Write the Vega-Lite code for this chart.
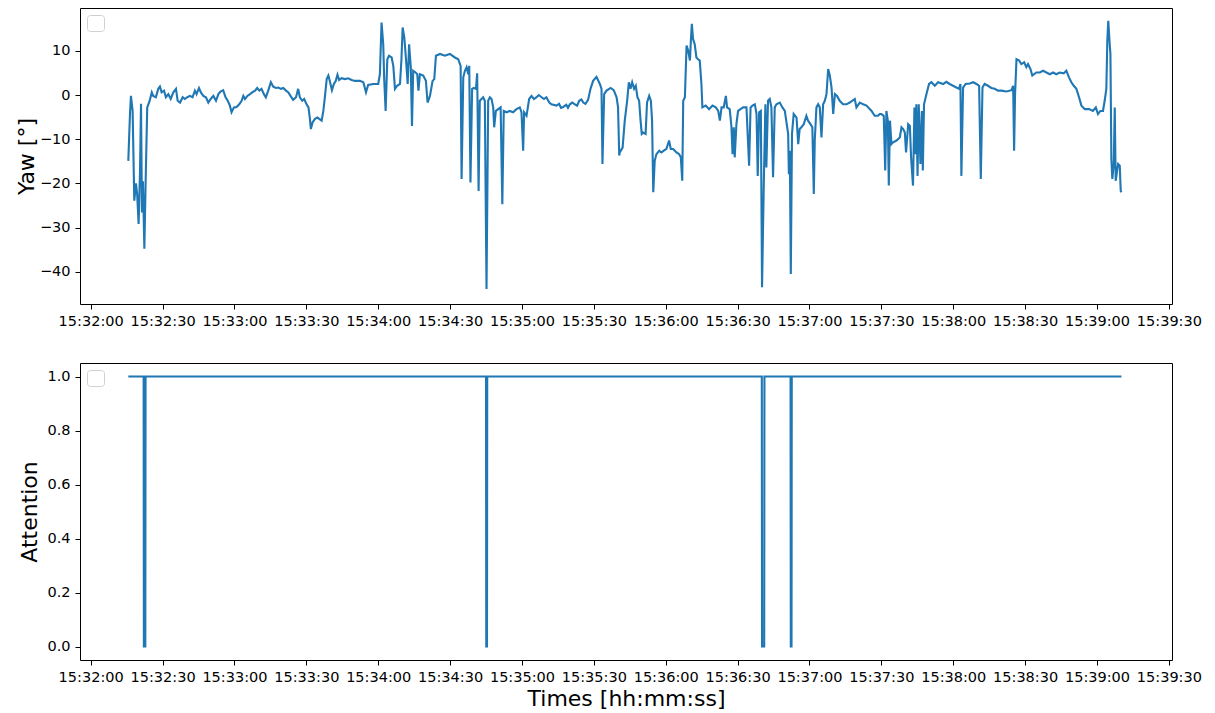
{
  "$schema": "https://vega.github.io/schema/vega-lite/v6.json",
  "background": "white",
  "padding": {"left": 14, "top": 7, "right": 5, "bottom": 5},
  "spacing": 34,
  "config": {
    "font": "DejaVu Sans",
    "view": {"stroke": "#000000", "strokeWidth": 1},
    "axis": {
      "grid": false,
      "domain": false,
      "tickColor": "#000000",
      "tickSize": 5,
      "tickWidth": 1,
      "labelColor": "#000000",
      "labelFont": "DejaVu Sans",
      "labelFontSize": 14.5,
      "labelPadding": 5,
      "titleFont": "DejaVu Sans",
      "titleFontSize": 22,
      "titleFontWeight": "normal",
      "titleColor": "#000000"
    }
  },
  "resolve": {"scale": {"color": "independent"}, "legend": {"color": "independent"}},
  "vconcat": [
    {
      "width": 1092,
      "height": 296,
      "data": {
        "values": [
          {"t": "2021-01-01T15:32:15.700", "yaw": -14.9}, {"t": "2021-01-01T15:32:16.400", "yaw": -4.3}, {"t": "2021-01-01T15:32:16.800", "yaw": -0.2},
          {"t": "2021-01-01T15:32:17.500", "yaw": -3.6}, {"t": "2021-01-01T15:32:18.200", "yaw": -23.9}, {"t": "2021-01-01T15:32:18.900", "yaw": -20.0},
          {"t": "2021-01-01T15:32:19.400", "yaw": -22.5}, {"t": "2021-01-01T15:32:20.000", "yaw": -29.2}, {"t": "2021-01-01T15:32:20.600", "yaw": -17.0},
          {"t": "2021-01-01T15:32:21.000", "yaw": -2.0}, {"t": "2021-01-01T15:32:21.400", "yaw": -26.6}, {"t": "2021-01-01T15:32:21.800", "yaw": -19.5},
          {"t": "2021-01-01T15:32:22.400", "yaw": -34.8}, {"t": "2021-01-01T15:32:22.900", "yaw": -20.5}, {"t": "2021-01-01T15:32:23.600", "yaw": -2.8},
          {"t": "2021-01-01T15:32:24.500", "yaw": -1.5}, {"t": "2021-01-01T15:32:25.500", "yaw": 0.6}, {"t": "2021-01-01T15:32:26.100", "yaw": -0.2},
          {"t": "2021-01-01T15:32:27.200", "yaw": -0.5}, {"t": "2021-01-01T15:32:28.200", "yaw": 1.4}, {"t": "2021-01-01T15:32:28.900", "yaw": 1.9},
          {"t": "2021-01-01T15:32:29.600", "yaw": 0.6}, {"t": "2021-01-01T15:32:30.600", "yaw": 1.0}, {"t": "2021-01-01T15:32:31.400", "yaw": -0.5},
          {"t": "2021-01-01T15:32:32.400", "yaw": 0.2}, {"t": "2021-01-01T15:32:33.400", "yaw": -0.9}, {"t": "2021-01-01T15:32:34.500", "yaw": 0.6},
          {"t": "2021-01-01T15:32:35.600", "yaw": 1.4}, {"t": "2021-01-01T15:32:36.300", "yaw": -1.3}, {"t": "2021-01-01T15:32:37.300", "yaw": -1.7},
          {"t": "2021-01-01T15:32:38.400", "yaw": -0.5}, {"t": "2021-01-01T15:32:39.300", "yaw": -0.9}, {"t": "2021-01-01T15:32:40.300", "yaw": -0.5},
          {"t": "2021-01-01T15:32:41.400", "yaw": -0.2}, {"t": "2021-01-01T15:32:42.500", "yaw": -0.5}, {"t": "2021-01-01T15:32:43.500", "yaw": 1.0},
          {"t": "2021-01-01T15:32:44.200", "yaw": 0.2}, {"t": "2021-01-01T15:32:45.200", "yaw": 1.6}, {"t": "2021-01-01T15:32:46.000", "yaw": 0.6},
          {"t": "2021-01-01T15:32:47.000", "yaw": -0.2}, {"t": "2021-01-01T15:32:48.100", "yaw": -0.5}, {"t": "2021-01-01T15:32:49.100", "yaw": -1.7},
          {"t": "2021-01-01T15:32:50.100", "yaw": -0.9}, {"t": "2021-01-01T15:32:51.200", "yaw": -0.2}, {"t": "2021-01-01T15:32:52.300", "yaw": -1.3},
          {"t": "2021-01-01T15:32:53.300", "yaw": 0.2}, {"t": "2021-01-01T15:32:54.200", "yaw": 0.8}, {"t": "2021-01-01T15:32:55.300", "yaw": 1.1},
          {"t": "2021-01-01T15:32:56.300", "yaw": -0.5}, {"t": "2021-01-01T15:32:57.200", "yaw": -1.3}, {"t": "2021-01-01T15:32:58.100", "yaw": -2.4},
          {"t": "2021-01-01T15:32:58.800", "yaw": -3.9}, {"t": "2021-01-01T15:32:59.800", "yaw": -2.8}, {"t": "2021-01-01T15:33:00.900", "yaw": -2.7},
          {"t": "2021-01-01T15:33:02.000", "yaw": -2.1}, {"t": "2021-01-01T15:33:03.000", "yaw": -1.3}, {"t": "2021-01-01T15:33:03.700", "yaw": -0.2},
          {"t": "2021-01-01T15:33:04.400", "yaw": -0.9}, {"t": "2021-01-01T15:33:05.400", "yaw": -0.2}, {"t": "2021-01-01T15:33:06.500", "yaw": 0.2},
          {"t": "2021-01-01T15:33:07.400", "yaw": 0.6}, {"t": "2021-01-01T15:33:08.600", "yaw": 1.0}, {"t": "2021-01-01T15:33:09.500", "yaw": 1.6},
          {"t": "2021-01-01T15:33:10.400", "yaw": 1.0}, {"t": "2021-01-01T15:33:11.300", "yaw": 1.4}, {"t": "2021-01-01T15:33:12.300", "yaw": 0.2},
          {"t": "2021-01-01T15:33:13.100", "yaw": -0.5}, {"t": "2021-01-01T15:33:14.100", "yaw": 1.0}, {"t": "2021-01-01T15:33:15.200", "yaw": 2.9},
          {"t": "2021-01-01T15:33:16.200", "yaw": 1.9}, {"t": "2021-01-01T15:33:17.300", "yaw": 1.6}, {"t": "2021-01-01T15:33:18.300", "yaw": 1.7},
          {"t": "2021-01-01T15:33:19.400", "yaw": 1.4}, {"t": "2021-01-01T15:33:20.400", "yaw": 1.6}, {"t": "2021-01-01T15:33:21.500", "yaw": 1.0},
          {"t": "2021-01-01T15:33:22.500", "yaw": 0.6}, {"t": "2021-01-01T15:33:23.400", "yaw": -0.2}, {"t": "2021-01-01T15:33:24.500", "yaw": -1.1},
          {"t": "2021-01-01T15:33:25.700", "yaw": -0.5}, {"t": "2021-01-01T15:33:26.600", "yaw": 1.4}, {"t": "2021-01-01T15:33:27.300", "yaw": -0.5},
          {"t": "2021-01-01T15:33:28.300", "yaw": -1.3}, {"t": "2021-01-01T15:33:29.100", "yaw": -0.9}, {"t": "2021-01-01T15:33:30.100", "yaw": -2.1},
          {"t": "2021-01-01T15:33:30.900", "yaw": -2.8}, {"t": "2021-01-01T15:33:31.500", "yaw": -5.4}, {"t": "2021-01-01T15:33:31.900", "yaw": -7.7},
          {"t": "2021-01-01T15:33:32.600", "yaw": -6.2}, {"t": "2021-01-01T15:33:33.600", "yaw": -5.4}, {"t": "2021-01-01T15:33:34.600", "yaw": -5.1},
          {"t": "2021-01-01T15:33:35.400", "yaw": -5.4}, {"t": "2021-01-01T15:33:36.400", "yaw": -5.8}, {"t": "2021-01-01T15:33:37.100", "yaw": -3.6},
          {"t": "2021-01-01T15:33:37.800", "yaw": -0.2}, {"t": "2021-01-01T15:33:38.500", "yaw": 3.6}, {"t": "2021-01-01T15:33:39.200", "yaw": 4.4},
          {"t": "2021-01-01T15:33:39.800", "yaw": 3.2}, {"t": "2021-01-01T15:33:40.700", "yaw": 1.1}, {"t": "2021-01-01T15:33:41.500", "yaw": 2.5},
          {"t": "2021-01-01T15:33:42.300", "yaw": 3.2}, {"t": "2021-01-01T15:33:43.000", "yaw": 4.6}, {"t": "2021-01-01T15:33:43.700", "yaw": 3.4},
          {"t": "2021-01-01T15:33:44.700", "yaw": 3.8}, {"t": "2021-01-01T15:33:46.100", "yaw": 3.6}, {"t": "2021-01-01T15:33:47.500", "yaw": 3.8},
          {"t": "2021-01-01T15:33:48.900", "yaw": 3.4}, {"t": "2021-01-01T15:33:50.300", "yaw": 3.2}, {"t": "2021-01-01T15:33:52.400", "yaw": 3.2},
          {"t": "2021-01-01T15:33:53.800", "yaw": 2.9}, {"t": "2021-01-01T15:33:54.900", "yaw": 0.6}, {"t": "2021-01-01T15:33:55.800", "yaw": 2.3},
          {"t": "2021-01-01T15:33:57.900", "yaw": 2.5}, {"t": "2021-01-01T15:34:00.000", "yaw": 2.5}, {"t": "2021-01-01T15:34:00.700", "yaw": 4.7},
          {"t": "2021-01-01T15:34:01.400", "yaw": 16.4}, {"t": "2021-01-01T15:34:02.100", "yaw": 11.5}, {"t": "2021-01-01T15:34:02.500", "yaw": 3.6},
          {"t": "2021-01-01T15:34:03.100", "yaw": -3.6}, {"t": "2021-01-01T15:34:03.800", "yaw": 8.1}, {"t": "2021-01-01T15:34:04.500", "yaw": 8.9},
          {"t": "2021-01-01T15:34:05.600", "yaw": 8.5}, {"t": "2021-01-01T15:34:06.300", "yaw": 6.6}, {"t": "2021-01-01T15:34:07.000", "yaw": 1.4},
          {"t": "2021-01-01T15:34:07.900", "yaw": 2.1}, {"t": "2021-01-01T15:34:09.100", "yaw": 2.5}, {"t": "2021-01-01T15:34:09.700", "yaw": 8.1},
          {"t": "2021-01-01T15:34:10.200", "yaw": 15.3}, {"t": "2021-01-01T15:34:10.900", "yaw": 13.0}, {"t": "2021-01-01T15:34:11.600", "yaw": 8.1},
          {"t": "2021-01-01T15:34:12.300", "yaw": 2.5}, {"t": "2021-01-01T15:34:12.900", "yaw": 11.5}, {"t": "2021-01-01T15:34:13.600", "yaw": 6.3},
          {"t": "2021-01-01T15:34:14.100", "yaw": -7.0}, {"t": "2021-01-01T15:34:14.600", "yaw": 5.5}, {"t": "2021-01-01T15:34:15.600", "yaw": 5.1},
          {"t": "2021-01-01T15:34:16.300", "yaw": 4.7}, {"t": "2021-01-01T15:34:16.800", "yaw": 1.0}, {"t": "2021-01-01T15:34:17.400", "yaw": 4.7},
          {"t": "2021-01-01T15:34:18.800", "yaw": 4.4}, {"t": "2021-01-01T15:34:19.900", "yaw": 3.2}, {"t": "2021-01-01T15:34:20.600", "yaw": -1.7},
          {"t": "2021-01-01T15:34:21.600", "yaw": -0.2}, {"t": "2021-01-01T15:34:22.700", "yaw": 3.2}, {"t": "2021-01-01T15:34:23.400", "yaw": 3.6},
          {"t": "2021-01-01T15:34:24.100", "yaw": 8.9}, {"t": "2021-01-01T15:34:25.800", "yaw": 9.3}, {"t": "2021-01-01T15:34:27.800", "yaw": 8.9},
          {"t": "2021-01-01T15:34:29.900", "yaw": 9.3}, {"t": "2021-01-01T15:34:32.000", "yaw": 8.5}, {"t": "2021-01-01T15:34:33.400", "yaw": 8.1},
          {"t": "2021-01-01T15:34:34.400", "yaw": 6.6}, {"t": "2021-01-01T15:34:34.800", "yaw": -19.0}, {"t": "2021-01-01T15:34:35.500", "yaw": 4.0},
          {"t": "2021-01-01T15:34:36.200", "yaw": 5.5}, {"t": "2021-01-01T15:34:36.900", "yaw": 6.3}, {"t": "2021-01-01T15:34:37.600", "yaw": 4.7},
          {"t": "2021-01-01T15:34:38.000", "yaw": 6.6}, {"t": "2021-01-01T15:34:38.500", "yaw": -19.8}, {"t": "2021-01-01T15:34:39.200", "yaw": 1.4},
          {"t": "2021-01-01T15:34:39.900", "yaw": 1.6}, {"t": "2021-01-01T15:34:40.800", "yaw": 1.4}, {"t": "2021-01-01T15:34:41.300", "yaw": 4.9},
          {"t": "2021-01-01T15:34:41.900", "yaw": -21.7}, {"t": "2021-01-01T15:34:42.400", "yaw": -1.3}, {"t": "2021-01-01T15:34:43.100", "yaw": -0.9},
          {"t": "2021-01-01T15:34:43.800", "yaw": -0.5}, {"t": "2021-01-01T15:34:44.500", "yaw": -1.3}, {"t": "2021-01-01T15:34:45.200", "yaw": -43.9},
          {"t": "2021-01-01T15:34:45.900", "yaw": -1.3}, {"t": "2021-01-01T15:34:46.600", "yaw": -0.5}, {"t": "2021-01-01T15:34:47.300", "yaw": -0.9},
          {"t": "2021-01-01T15:34:48.000", "yaw": -2.8}, {"t": "2021-01-01T15:34:48.400", "yaw": -7.3}, {"t": "2021-01-01T15:34:49.100", "yaw": -3.6},
          {"t": "2021-01-01T15:34:50.100", "yaw": -3.2}, {"t": "2021-01-01T15:34:51.100", "yaw": -2.8}, {"t": "2021-01-01T15:34:51.800", "yaw": -24.7},
          {"t": "2021-01-01T15:34:52.400", "yaw": -3.6}, {"t": "2021-01-01T15:34:53.600", "yaw": -3.9}, {"t": "2021-01-01T15:34:54.900", "yaw": -3.6},
          {"t": "2021-01-01T15:34:56.300", "yaw": -3.9}, {"t": "2021-01-01T15:34:57.700", "yaw": -3.2}, {"t": "2021-01-01T15:34:59.100", "yaw": -2.8},
          {"t": "2021-01-01T15:34:59.800", "yaw": -3.9}, {"t": "2021-01-01T15:35:00.500", "yaw": -12.6}, {"t": "2021-01-01T15:35:00.900", "yaw": -3.9},
          {"t": "2021-01-01T15:35:01.900", "yaw": -4.7}, {"t": "2021-01-01T15:35:03.000", "yaw": -0.9}, {"t": "2021-01-01T15:35:04.000", "yaw": -0.2},
          {"t": "2021-01-01T15:35:05.000", "yaw": -0.9}, {"t": "2021-01-01T15:35:06.100", "yaw": -0.5}, {"t": "2021-01-01T15:35:07.000", "yaw": 0.0},
          {"t": "2021-01-01T15:35:08.200", "yaw": -0.5}, {"t": "2021-01-01T15:35:09.200", "yaw": -0.9}, {"t": "2021-01-01T15:35:10.200", "yaw": -0.5},
          {"t": "2021-01-01T15:35:11.400", "yaw": -1.7}, {"t": "2021-01-01T15:35:12.300", "yaw": -2.1}, {"t": "2021-01-01T15:35:14.400", "yaw": -2.4},
          {"t": "2021-01-01T15:35:15.500", "yaw": -2.0}, {"t": "2021-01-01T15:35:16.300", "yaw": -2.9}, {"t": "2021-01-01T15:35:17.200", "yaw": -2.7},
          {"t": "2021-01-01T15:35:18.500", "yaw": -2.2}, {"t": "2021-01-01T15:35:19.200", "yaw": -2.9}, {"t": "2021-01-01T15:35:20.000", "yaw": -2.1},
          {"t": "2021-01-01T15:35:21.000", "yaw": -1.7}, {"t": "2021-01-01T15:35:22.100", "yaw": -2.1}, {"t": "2021-01-01T15:35:23.000", "yaw": -2.4},
          {"t": "2021-01-01T15:35:23.900", "yaw": -1.3}, {"t": "2021-01-01T15:35:24.800", "yaw": -1.0}, {"t": "2021-01-01T15:35:25.600", "yaw": -1.7},
          {"t": "2021-01-01T15:35:26.500", "yaw": -2.0}, {"t": "2021-01-01T15:35:27.600", "yaw": -1.1}, {"t": "2021-01-01T15:35:28.600", "yaw": 1.4},
          {"t": "2021-01-01T15:35:29.700", "yaw": 3.2}, {"t": "2021-01-01T15:35:31.100", "yaw": 4.1}, {"t": "2021-01-01T15:35:32.500", "yaw": 2.5},
          {"t": "2021-01-01T15:35:33.200", "yaw": 1.4}, {"t": "2021-01-01T15:35:33.600", "yaw": -15.6}, {"t": "2021-01-01T15:35:34.300", "yaw": 0.2},
          {"t": "2021-01-01T15:35:35.300", "yaw": 1.0}, {"t": "2021-01-01T15:35:37.000", "yaw": 1.6}, {"t": "2021-01-01T15:35:38.300", "yaw": 1.1},
          {"t": "2021-01-01T15:35:39.500", "yaw": -0.5}, {"t": "2021-01-01T15:35:40.100", "yaw": -2.8}, {"t": "2021-01-01T15:35:40.600", "yaw": -13.7},
          {"t": "2021-01-01T15:35:40.800", "yaw": -13.0}, {"t": "2021-01-01T15:35:42.000", "yaw": -11.9}, {"t": "2021-01-01T15:35:42.900", "yaw": -5.8},
          {"t": "2021-01-01T15:35:43.900", "yaw": -1.3}, {"t": "2021-01-01T15:35:44.600", "yaw": 2.9}, {"t": "2021-01-01T15:35:45.300", "yaw": 1.4},
          {"t": "2021-01-01T15:35:46.000", "yaw": 2.9}, {"t": "2021-01-01T15:35:46.800", "yaw": 1.4}, {"t": "2021-01-01T15:35:47.500", "yaw": 2.1},
          {"t": "2021-01-01T15:35:48.200", "yaw": -0.5}, {"t": "2021-01-01T15:35:48.900", "yaw": -1.3}, {"t": "2021-01-01T15:35:49.500", "yaw": -5.8},
          {"t": "2021-01-01T15:35:50.000", "yaw": -8.8}, {"t": "2021-01-01T15:35:50.600", "yaw": -8.5}, {"t": "2021-01-01T15:35:51.600", "yaw": -8.8},
          {"t": "2021-01-01T15:35:52.200", "yaw": -1.7}, {"t": "2021-01-01T15:35:53.100", "yaw": -0.2}, {"t": "2021-01-01T15:35:53.800", "yaw": -1.3},
          {"t": "2021-01-01T15:35:54.300", "yaw": -5.8}, {"t": "2021-01-01T15:35:54.800", "yaw": -22.0}, {"t": "2021-01-01T15:35:55.400", "yaw": -14.9},
          {"t": "2021-01-01T15:35:56.100", "yaw": -13.4}, {"t": "2021-01-01T15:35:57.300", "yaw": -12.6}, {"t": "2021-01-01T15:35:58.200", "yaw": -13.0},
          {"t": "2021-01-01T15:35:59.200", "yaw": -12.6}, {"t": "2021-01-01T15:36:00.300", "yaw": -12.2}, {"t": "2021-01-01T15:36:01.400", "yaw": -10.3},
          {"t": "2021-01-01T15:36:02.100", "yaw": -12.2}, {"t": "2021-01-01T15:36:03.100", "yaw": -12.2}, {"t": "2021-01-01T15:36:04.500", "yaw": -13.0},
          {"t": "2021-01-01T15:36:05.600", "yaw": -13.4}, {"t": "2021-01-01T15:36:06.300", "yaw": -14.1}, {"t": "2021-01-01T15:36:06.900", "yaw": -19.4},
          {"t": "2021-01-01T15:36:07.300", "yaw": -1.3}, {"t": "2021-01-01T15:36:08.000", "yaw": -0.5}, {"t": "2021-01-01T15:36:08.700", "yaw": 11.2},
          {"t": "2021-01-01T15:36:09.400", "yaw": 10.0}, {"t": "2021-01-01T15:36:10.100", "yaw": 7.8}, {"t": "2021-01-01T15:36:10.500", "yaw": 12.3},
          {"t": "2021-01-01T15:36:10.900", "yaw": 16.1}, {"t": "2021-01-01T15:36:11.400", "yaw": 12.7}, {"t": "2021-01-01T15:36:12.100", "yaw": 11.5},
          {"t": "2021-01-01T15:36:12.800", "yaw": 8.5}, {"t": "2021-01-01T15:36:13.500", "yaw": 8.1}, {"t": "2021-01-01T15:36:14.200", "yaw": 7.8},
          {"t": "2021-01-01T15:36:14.900", "yaw": 2.5}, {"t": "2021-01-01T15:36:15.300", "yaw": -2.8}, {"t": "2021-01-01T15:36:16.700", "yaw": -2.4},
          {"t": "2021-01-01T15:36:18.100", "yaw": -3.2}, {"t": "2021-01-01T15:36:19.500", "yaw": -2.4}, {"t": "2021-01-01T15:36:20.900", "yaw": -2.8},
          {"t": "2021-01-01T15:36:21.900", "yaw": -3.6}, {"t": "2021-01-01T15:36:22.600", "yaw": -5.8}, {"t": "2021-01-01T15:36:23.300", "yaw": -2.8},
          {"t": "2021-01-01T15:36:24.200", "yaw": -2.8}, {"t": "2021-01-01T15:36:25.100", "yaw": -0.2}, {"t": "2021-01-01T15:36:25.600", "yaw": -2.8},
          {"t": "2021-01-01T15:36:26.700", "yaw": -3.2}, {"t": "2021-01-01T15:36:27.400", "yaw": -7.0}, {"t": "2021-01-01T15:36:27.900", "yaw": -13.4},
          {"t": "2021-01-01T15:36:28.400", "yaw": -7.3}, {"t": "2021-01-01T15:36:28.800", "yaw": -14.1}, {"t": "2021-01-01T15:36:29.500", "yaw": -6.6},
          {"t": "2021-01-01T15:36:30.200", "yaw": -3.6}, {"t": "2021-01-01T15:36:31.200", "yaw": -3.2}, {"t": "2021-01-01T15:36:32.300", "yaw": -2.8},
          {"t": "2021-01-01T15:36:33.700", "yaw": -2.8}, {"t": "2021-01-01T15:36:34.800", "yaw": -16.0}, {"t": "2021-01-01T15:36:35.400", "yaw": -2.8},
          {"t": "2021-01-01T15:36:36.200", "yaw": -2.4}, {"t": "2021-01-01T15:36:37.200", "yaw": -2.1}, {"t": "2021-01-01T15:36:37.900", "yaw": -4.3},
          {"t": "2021-01-01T15:36:38.400", "yaw": -18.3}, {"t": "2021-01-01T15:36:39.000", "yaw": -3.9}, {"t": "2021-01-01T15:36:39.700", "yaw": -3.6},
          {"t": "2021-01-01T15:36:40.200", "yaw": -43.5}, {"t": "2021-01-01T15:36:40.900", "yaw": -20.9}, {"t": "2021-01-01T15:36:41.600", "yaw": -2.1},
          {"t": "2021-01-01T15:36:42.000", "yaw": -16.4}, {"t": "2021-01-01T15:36:42.700", "yaw": -1.3}, {"t": "2021-01-01T15:36:43.400", "yaw": -0.9},
          {"t": "2021-01-01T15:36:44.100", "yaw": -2.8}, {"t": "2021-01-01T15:36:44.800", "yaw": -18.6}, {"t": "2021-01-01T15:36:45.500", "yaw": -2.8},
          {"t": "2021-01-01T15:36:46.200", "yaw": -2.1}, {"t": "2021-01-01T15:36:47.600", "yaw": -1.7}, {"t": "2021-01-01T15:36:48.700", "yaw": -2.8},
          {"t": "2021-01-01T15:36:49.700", "yaw": -3.6}, {"t": "2021-01-01T15:36:51.100", "yaw": -8.8}, {"t": "2021-01-01T15:36:51.400", "yaw": -17.9},
          {"t": "2021-01-01T15:36:51.800", "yaw": -12.6}, {"t": "2021-01-01T15:36:52.200", "yaw": -40.5}, {"t": "2021-01-01T15:36:52.700", "yaw": -8.8},
          {"t": "2021-01-01T15:36:53.400", "yaw": -4.3}, {"t": "2021-01-01T15:36:54.600", "yaw": -5.1}, {"t": "2021-01-01T15:36:55.300", "yaw": -11.1},
          {"t": "2021-01-01T15:36:55.900", "yaw": -7.7}, {"t": "2021-01-01T15:36:56.600", "yaw": -7.3}, {"t": "2021-01-01T15:36:57.600", "yaw": -6.6},
          {"t": "2021-01-01T15:36:58.700", "yaw": -4.7}, {"t": "2021-01-01T15:36:59.400", "yaw": -5.8}, {"t": "2021-01-01T15:37:00.400", "yaw": -6.6},
          {"t": "2021-01-01T15:37:01.200", "yaw": -7.3}, {"t": "2021-01-01T15:37:01.800", "yaw": -22.4}, {"t": "2021-01-01T15:37:02.200", "yaw": -10.3},
          {"t": "2021-01-01T15:37:02.900", "yaw": -2.8}, {"t": "2021-01-01T15:37:03.600", "yaw": -2.1}, {"t": "2021-01-01T15:37:04.300", "yaw": -2.8},
          {"t": "2021-01-01T15:37:05.000", "yaw": -9.6}, {"t": "2021-01-01T15:37:05.700", "yaw": -2.1}, {"t": "2021-01-01T15:37:06.400", "yaw": -1.3},
          {"t": "2021-01-01T15:37:07.100", "yaw": 0.2}, {"t": "2021-01-01T15:37:07.800", "yaw": 5.9}, {"t": "2021-01-01T15:37:08.500", "yaw": 4.4},
          {"t": "2021-01-01T15:37:09.200", "yaw": 1.7}, {"t": "2021-01-01T15:37:09.900", "yaw": -4.3}, {"t": "2021-01-01T15:37:10.600", "yaw": 0.2},
          {"t": "2021-01-01T15:37:11.500", "yaw": -0.2}, {"t": "2021-01-01T15:37:12.600", "yaw": -1.3}, {"t": "2021-01-01T15:37:14.000", "yaw": -2.1},
          {"t": "2021-01-01T15:37:15.400", "yaw": -2.1}, {"t": "2021-01-01T15:37:16.800", "yaw": -1.7}, {"t": "2021-01-01T15:37:18.900", "yaw": -0.9},
          {"t": "2021-01-01T15:37:19.600", "yaw": -2.8}, {"t": "2021-01-01T15:37:21.000", "yaw": -1.7}, {"t": "2021-01-01T15:37:22.400", "yaw": -2.1},
          {"t": "2021-01-01T15:37:23.800", "yaw": -2.4}, {"t": "2021-01-01T15:37:25.900", "yaw": -3.6}, {"t": "2021-01-01T15:37:27.200", "yaw": -4.7},
          {"t": "2021-01-01T15:37:28.600", "yaw": -4.7}, {"t": "2021-01-01T15:37:29.300", "yaw": -4.3}, {"t": "2021-01-01T15:37:30.000", "yaw": -4.3},
          {"t": "2021-01-01T15:37:31.000", "yaw": -4.7}, {"t": "2021-01-01T15:37:31.600", "yaw": -17.1}, {"t": "2021-01-01T15:37:32.100", "yaw": -3.6},
          {"t": "2021-01-01T15:37:32.700", "yaw": -5.8}, {"t": "2021-01-01T15:37:33.100", "yaw": -20.5}, {"t": "2021-01-01T15:37:33.600", "yaw": -5.8},
          {"t": "2021-01-01T15:37:34.200", "yaw": -11.1}, {"t": "2021-01-01T15:37:34.900", "yaw": -10.7}, {"t": "2021-01-01T15:37:36.300", "yaw": -10.3},
          {"t": "2021-01-01T15:37:37.700", "yaw": -9.6}, {"t": "2021-01-01T15:37:38.400", "yaw": -7.3}, {"t": "2021-01-01T15:37:39.100", "yaw": -7.7},
          {"t": "2021-01-01T15:37:39.800", "yaw": -8.5}, {"t": "2021-01-01T15:37:40.300", "yaw": -13.0}, {"t": "2021-01-01T15:37:41.200", "yaw": -6.6},
          {"t": "2021-01-01T15:37:41.900", "yaw": -7.0}, {"t": "2021-01-01T15:37:42.400", "yaw": -14.1}, {"t": "2021-01-01T15:37:43.200", "yaw": -20.5},
          {"t": "2021-01-01T15:37:43.800", "yaw": -2.8}, {"t": "2021-01-01T15:37:44.200", "yaw": -13.4}, {"t": "2021-01-01T15:37:44.600", "yaw": -2.1},
          {"t": "2021-01-01T15:37:45.100", "yaw": -18.3}, {"t": "2021-01-01T15:37:45.600", "yaw": -2.1}, {"t": "2021-01-01T15:37:46.300", "yaw": -15.6},
          {"t": "2021-01-01T15:37:46.900", "yaw": -3.6}, {"t": "2021-01-01T15:37:47.300", "yaw": -17.1}, {"t": "2021-01-01T15:37:47.800", "yaw": -2.1},
          {"t": "2021-01-01T15:37:48.800", "yaw": 0.2}, {"t": "2021-01-01T15:37:49.900", "yaw": 2.5}, {"t": "2021-01-01T15:37:50.900", "yaw": 2.9},
          {"t": "2021-01-01T15:37:52.300", "yaw": 2.1}, {"t": "2021-01-01T15:37:53.700", "yaw": 2.9}, {"t": "2021-01-01T15:37:55.800", "yaw": 2.5},
          {"t": "2021-01-01T15:37:57.100", "yaw": 3.0}, {"t": "2021-01-01T15:37:58.500", "yaw": 2.5}, {"t": "2021-01-01T15:37:59.900", "yaw": 2.1},
          {"t": "2021-01-01T15:38:01.300", "yaw": 1.7}, {"t": "2021-01-01T15:38:02.400", "yaw": 1.4}, {"t": "2021-01-01T15:38:03.000", "yaw": 2.5},
          {"t": "2021-01-01T15:38:03.400", "yaw": -18.3}, {"t": "2021-01-01T15:38:04.100", "yaw": 1.7}, {"t": "2021-01-01T15:38:05.200", "yaw": 2.5},
          {"t": "2021-01-01T15:38:06.900", "yaw": 2.6}, {"t": "2021-01-01T15:38:08.300", "yaw": 2.9}, {"t": "2021-01-01T15:38:09.700", "yaw": 2.5},
          {"t": "2021-01-01T15:38:10.800", "yaw": 2.1}, {"t": "2021-01-01T15:38:11.500", "yaw": -19.0}, {"t": "2021-01-01T15:38:12.200", "yaw": 1.7},
          {"t": "2021-01-01T15:38:13.100", "yaw": 2.5}, {"t": "2021-01-01T15:38:14.500", "yaw": 2.1}, {"t": "2021-01-01T15:38:15.900", "yaw": 1.6},
          {"t": "2021-01-01T15:38:17.300", "yaw": 1.4}, {"t": "2021-01-01T15:38:18.700", "yaw": 1.0}, {"t": "2021-01-01T15:38:20.100", "yaw": 1.0},
          {"t": "2021-01-01T15:38:22.200", "yaw": 0.8}, {"t": "2021-01-01T15:38:24.300", "yaw": 1.1}, {"t": "2021-01-01T15:38:25.000", "yaw": 2.1},
          {"t": "2021-01-01T15:38:25.400", "yaw": -12.6}, {"t": "2021-01-01T15:38:25.800", "yaw": 0.2}, {"t": "2021-01-01T15:38:26.400", "yaw": 8.1},
          {"t": "2021-01-01T15:38:27.500", "yaw": 7.8}, {"t": "2021-01-01T15:38:28.400", "yaw": 7.0}, {"t": "2021-01-01T15:38:29.600", "yaw": 7.4},
          {"t": "2021-01-01T15:38:30.500", "yaw": 6.3}, {"t": "2021-01-01T15:38:31.200", "yaw": 7.0}, {"t": "2021-01-01T15:38:32.200", "yaw": 5.9},
          {"t": "2021-01-01T15:38:33.000", "yaw": 4.4}, {"t": "2021-01-01T15:38:34.700", "yaw": 5.1}, {"t": "2021-01-01T15:38:36.100", "yaw": 5.1},
          {"t": "2021-01-01T15:38:37.500", "yaw": 5.5}, {"t": "2021-01-01T15:38:38.900", "yaw": 5.1}, {"t": "2021-01-01T15:38:40.300", "yaw": 4.7},
          {"t": "2021-01-01T15:38:41.700", "yaw": 5.1}, {"t": "2021-01-01T15:38:43.000", "yaw": 4.7}, {"t": "2021-01-01T15:38:44.400", "yaw": 5.1},
          {"t": "2021-01-01T15:38:46.100", "yaw": 4.9}, {"t": "2021-01-01T15:38:47.200", "yaw": 5.5}, {"t": "2021-01-01T15:38:48.300", "yaw": 4.0},
          {"t": "2021-01-01T15:38:49.300", "yaw": 2.9}, {"t": "2021-01-01T15:38:50.300", "yaw": 2.1}, {"t": "2021-01-01T15:38:51.400", "yaw": 1.4},
          {"t": "2021-01-01T15:38:52.500", "yaw": -0.5}, {"t": "2021-01-01T15:38:53.500", "yaw": -2.4}, {"t": "2021-01-01T15:38:54.900", "yaw": -3.2},
          {"t": "2021-01-01T15:38:56.700", "yaw": -3.2}, {"t": "2021-01-01T15:38:58.300", "yaw": -3.6}, {"t": "2021-01-01T15:38:59.500", "yaw": -2.8},
          {"t": "2021-01-01T15:39:00.400", "yaw": -4.3}, {"t": "2021-01-01T15:39:01.400", "yaw": -3.6}, {"t": "2021-01-01T15:39:02.500", "yaw": -3.6},
          {"t": "2021-01-01T15:39:03.200", "yaw": -1.3}, {"t": "2021-01-01T15:39:03.900", "yaw": 1.4}, {"t": "2021-01-01T15:39:04.300", "yaw": 12.3},
          {"t": "2021-01-01T15:39:04.700", "yaw": 16.8}, {"t": "2021-01-01T15:39:05.300", "yaw": 11.5}, {"t": "2021-01-01T15:39:05.600", "yaw": 9.3},
          {"t": "2021-01-01T15:39:06.000", "yaw": -14.5}, {"t": "2021-01-01T15:39:06.400", "yaw": -19.0}, {"t": "2021-01-01T15:39:07.000", "yaw": -15.6},
          {"t": "2021-01-01T15:39:07.400", "yaw": -2.8}, {"t": "2021-01-01T15:39:07.800", "yaw": -19.4}, {"t": "2021-01-01T15:39:08.400", "yaw": -17.1},
          {"t": "2021-01-01T15:39:08.800", "yaw": -15.6}, {"t": "2021-01-01T15:39:09.500", "yaw": -16.0}, {"t": "2021-01-01T15:39:09.900", "yaw": -21.7},
          {"t": "2021-01-01T15:39:10.200", "yaw": -22.0}
        ]
      },
      "mark": {"type": "line", "strokeWidth": 2.1},
      "encoding": {
        "x": {
          "field": "t",
          "type": "temporal",
          "scale": {"domain": ["2021-01-01T15:31:55.540", "2021-01-01T15:39:31.300"]},
          "axis": {"title": null, "format": "%H:%M:%S", "tickCount": 16, "labelFlush": false}
        },
        "y": {
          "field": "yaw",
          "type": "quantitative",
          "scale": {"domain": [-47.3, 19.7], "nice": false, "zero": false},
          "axis": {"title": "Yaw [°]", "values": [-40, -30, -20, -10, 0, 10], "titlePadding": 1}
        },
        "color": {
          "datum": "Yaw",
          "scale": {"range": ["#1f77b4"]},
          "legend": {"orient": "top-left", "offset": 7, "padding": 2.5, "strokeColor": "#d0d0d0", "fillColor": "#ffffff", "cornerRadius": 3, "symbolOpacity": 0, "symbolSize": 100, "labelOffset": 0, "labelExpr": "''", "title": null}
        }
      }
    },
    {
      "width": 1092,
      "height": 297,
      "data": {
        "values": [
          {"t": "2021-01-01T15:32:15.700", "attention": 1}, {"t": "2021-01-01T15:32:22.100", "attention": 1}, {"t": "2021-01-01T15:32:22.200", "attention": 0},
          {"t": "2021-01-01T15:32:22.800", "attention": 0}, {"t": "2021-01-01T15:32:22.900", "attention": 1}, {"t": "2021-01-01T15:34:45.000", "attention": 1},
          {"t": "2021-01-01T15:34:45.100", "attention": 0}, {"t": "2021-01-01T15:34:45.400", "attention": 0}, {"t": "2021-01-01T15:34:45.500", "attention": 1},
          {"t": "2021-01-01T15:36:40.100", "attention": 1}, {"t": "2021-01-01T15:36:40.200", "attention": 0}, {"t": "2021-01-01T15:36:41.100", "attention": 0},
          {"t": "2021-01-01T15:36:41.200", "attention": 1}, {"t": "2021-01-01T15:36:52.100", "attention": 1}, {"t": "2021-01-01T15:36:52.200", "attention": 0},
          {"t": "2021-01-01T15:36:52.500", "attention": 0}, {"t": "2021-01-01T15:36:52.600", "attention": 1}, {"t": "2021-01-01T15:39:10.200", "attention": 1}
        ]
      },
      "mark": {"type": "line", "strokeWidth": 2.1},
      "encoding": {
        "x": {
          "field": "t",
          "type": "temporal",
          "scale": {"domain": ["2021-01-01T15:31:55.540", "2021-01-01T15:39:31.300"]},
          "axis": {"title": "Times [hh:mm:ss]", "format": "%H:%M:%S", "tickCount": 16, "labelFlush": false, "titlePadding": 5}
        },
        "y": {
          "field": "attention",
          "type": "quantitative",
          "scale": {"domain": [-0.05, 1.05], "nice": false, "zero": false},
          "axis": {"title": "Attention", "values": [0, 0.2, 0.4, 0.6, 0.8, 1.0], "format": ".1f", "titlePadding": 5.5}
        },
        "color": {
          "datum": "Attention",
          "scale": {"range": ["#1f77b4"]},
          "legend": {"orient": "top-left", "offset": 7, "padding": 2.5, "strokeColor": "#d0d0d0", "fillColor": "#ffffff", "cornerRadius": 3, "symbolOpacity": 0, "symbolSize": 100, "labelOffset": 0, "labelExpr": "''", "title": null}
        }
      }
    }
  ]
}
